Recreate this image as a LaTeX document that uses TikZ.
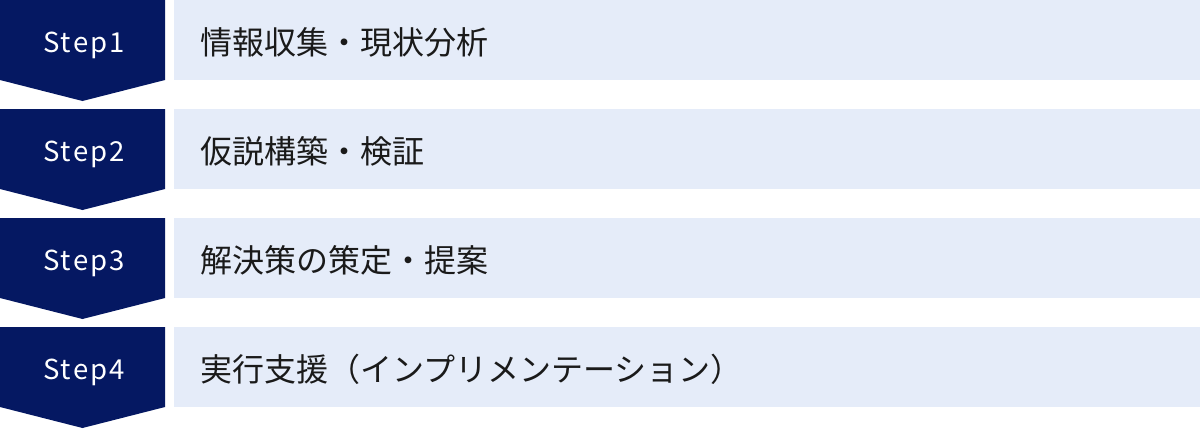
\documentclass[tikz,border=0pt]{standalone}
\usepackage{fontspec}
\setmainfont{Noto Sans CJK JP}
\usetikzlibrary{calc}
\definecolor{navy1}{RGB}{5, 24, 98}
\definecolor{blue1}{RGB}{229, 236, 249}
\definecolor{ink1}{RGB}{26, 26, 26}

\begin{document}
\begin{tikzpicture}[x=1pt, y=-1pt]
  \useasboundingbox (0,0) rectangle (1200,429);
  \tikzset{
    steplabel/.style={text=white, anchor=base, inner sep=0pt,
      font=\fontsize{27.5}{32}\selectfont\addfontfeature{LetterSpace=8}},
    stagetext/.style={text=ink1, anchor=west, inner sep=0pt,
      font=\fontsize{32}{38}\selectfont}
  }
  \foreach \i/\txt in {1/情報収集・現状分析, 2/仮説構築・検証, 3/解決策の策定・提案, 4/実行支援（インプリメンテーション）}
  {
    \pgfmathsetmacro{\ytop}{(\i-1)*109}
    \fill[navy1] (0,\ytop) -- (165,\ytop) -- (165,\ytop+80) -- (82.5,\ytop+101)
      -- (0,\ytop+80) -- cycle;
    \fill[blue1] (174,\ytop) rectangle (1200,\ytop+80);
    \node[steplabel] (s\i) at (84,\ytop+52) {Step\i};
    \node[stagetext] (t\i) at (200,\ytop+42) {\txt};
  }
\end{tikzpicture}
\end{document}
